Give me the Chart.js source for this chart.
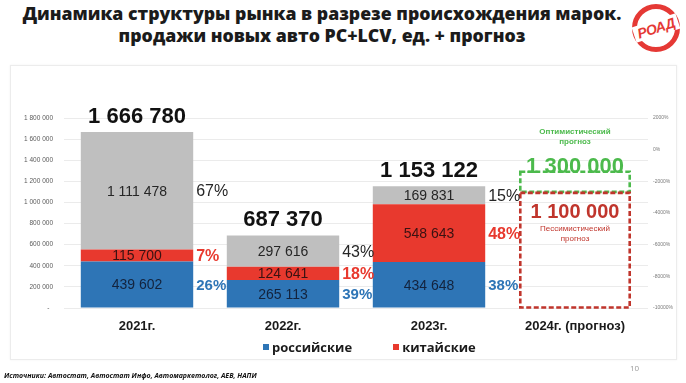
<!DOCTYPE html>
<html><head><meta charset="utf-8">
<script src="https://cdn.jsdelivr.net/npm/chart.js@4.4.1/dist/chart.umd.min.js"></script>
<style>
html,body{margin:0;padding:0;background:#fff;width:686px;height:383px;overflow:hidden;font-family:"Open Sans",sans-serif;}
#title{position:absolute;left:0;top:2px;width:644px;text-align:center;font-weight:800;font-size:17.7px;line-height:22px;color:#1b1b1b;white-space:nowrap;}
#panel{position:absolute;left:10px;top:65px;width:665px;height:293px;border:1px solid #ececec;box-shadow:0 0 2px rgba(0,0,0,0.06);}
#wrap{position:absolute;left:0;top:0;width:686px;height:383px;}
#legend{position:absolute;top:338px;left:263px;display:flex;gap:41px;font-family:"Open Sans",sans-serif;font-weight:700;font-size:13px;color:#1b1b1b;line-height:18px;}
#legend .it{display:flex;align-items:center;}
#legend .sw{width:6px;height:6px;margin-right:3px;}
#src{position:absolute;left:4px;top:371px;font-size:7px;font-weight:700;font-style:italic;color:#111;white-space:nowrap;}
#page{position:absolute;left:630px;top:362px;font-size:8px;color:#9a9a9a;}
#logo{position:absolute;left:632px;top:4px;width:48px;height:48px;border-radius:50%;border:5px solid #e53935;box-sizing:border-box;background:#fff;}
#logo span{position:absolute;left:-4px;top:11px;width:46px;text-align:center;font-family:"Liberation Sans",Arial,sans-serif;font-weight:700;font-style:italic;font-size:14px;color:#e53935;background:#fff;transform:rotate(-18deg);letter-spacing:-0.5px;}
</style></head>
<body>
<div id="panel"></div>
<div id="title">Динамика структуры рынка в разрезе происхождения марок.<br>продажи новых авто PC+LCV, ед. + прогноз</div>
<div id="logo"><span>РОАД</span></div>
<div id="wrap"><canvas id="c" width="686" height="383"></canvas></div>
<div id="legend"></div>
<div id="src">Источники: Автостат, Автостат Инфо, Автомаркетолог, АЕВ, НАПИ</div>
<div id="page">10</div>
<script>
const categories = ['2021г.', '2022г.', '2023г.', '2024г. (прогноз)'];
const seriesNames = ['российские', 'китайские', 'прочие'];
const russian = [439602, 265113, 434648, null];
const chinese = [115700, 124641, 548643, null];
const other = [1111478, 297616, 169831, null];
const totals = [1666780, 687370, 1153122, null];
const russianShare = [26, 39, 38, null];
const chineseShare = [7, 18, 48, null];
const otherShare = [67, 43, 15, null];
const forecastPessimistic = [null, null, null, 1100000];
const forecastOptimistic = [null, null, null, 1300000];
const forecastNames = ['Пессимистический прогноз', 'Оптимистический прогноз'];
const leftAxis = {min: 0, max: 1800000, step: 200000};
const rightAxis = {min: -10000, max: 2000, step: 2000};

const C_BLUE = '#2e75b6', C_RED = '#e8392e', C_GRAY = '#bfbfbf';
const C_GREEN = '#4cba4c', C_DRED = '#c0352c';
const fmt = v => String(v).replace(/\B(?=(\d{3})+(?!\d))/g, ' ');
const optimisticExtra = forecastOptimistic.map((v, i) => v == null ? null : v - forecastPessimistic[i]);

const labelsPlugin = {
  id: 'labels',
  afterDatasetsDraw(chart) {
    const ctx = chart.ctx;
    ctx.save();
    const mB = chart.getDatasetMeta(0), mR = chart.getDatasetMeta(1), mG = chart.getDatasetMeta(2);
    const mP = chart.getDatasetMeta(3), mO = chart.getDatasetMeta(4);
    const dashRect = (el, color) => {
      const l = el.x - el.width / 2 + 1.5, r = el.x + el.width / 2 - 1.5;
      ctx.strokeStyle = color; ctx.lineWidth = 2.6; ctx.setLineDash([5, 2.5]);
      ctx.strokeRect(l, el.y + 1, r - l, el.base - el.y - 1);
    };
    const eo = mO.data[3], ep = mP.data[3];
    dashRect(eo, C_GREEN);
    dashRect(ep, C_DRED);
    ctx.setLineDash([]);
    const segs = [
      {m: mB, vals: russian, share: russianShare, tc: '#13233d', pc: C_BLUE, pf: 'bold 15px "Liberation Sans", Arial'},
      {m: mR, vals: chinese, share: chineseShare, tc: '#3a1212', pc: C_RED, pf: 'bold 16px "Liberation Sans", Arial'},
      {m: mG, vals: other, share: otherShare, tc: '#262626', pc: '#262626', pf: '16px "Liberation Sans", Arial'}
    ];
    segs.forEach(s => {
      s.m.data.forEach((el, i) => {
        if (s.vals[i] == null) return;
        const cy = (el.y + el.base) / 2;
        ctx.font = '14px "Liberation Sans", Arial';
        ctx.fillStyle = s.tc; ctx.textAlign = 'center'; ctx.textBaseline = 'middle';
        ctx.fillText(fmt(s.vals[i]), el.x, cy + 1);
        ctx.font = s.pf; ctx.fillStyle = s.pc; ctx.textAlign = 'left';
        ctx.fillText(s.share[i] + '%', el.x + el.width / 2 + 3, cy + 1);
      });
    });
    ctx.textBaseline = 'alphabetic'; ctx.textAlign = 'center';
    ctx.font = 'bold 22px "Liberation Sans", Arial'; ctx.fillStyle = '#111';
    mG.data.forEach((el, i) => {
      if (totals[i] == null) return;
      ctx.fillText(fmt(totals[i]), el.x, el.y - 9);
    });
    ctx.fillStyle = C_GREEN;
    ctx.fillText(fmt(forecastOptimistic[3]), eo.x, eo.y + 2);
    ctx.font = 'bold 8px "Liberation Sans", Arial';
    const on = forecastNames[1].split(' ');
    ctx.fillText(on[0], eo.x, eo.y - 37);
    ctx.fillText(on[1], eo.x, eo.y - 27);
    ctx.fillStyle = C_DRED;
    ctx.font = 'bold 20px "Liberation Sans", Arial';
    ctx.fillText(fmt(forecastPessimistic[3]), ep.x, ep.y + 26);
    ctx.font = '8px "Liberation Sans", Arial';
    const pn = forecastNames[0].split(' ');
    ctx.fillText(pn[0], ep.x, ep.y + 39);
    ctx.fillText(pn[1], ep.x, ep.y + 49);
    ctx.restore();
  }
};

const chart = new Chart(document.getElementById('c'), {
  type: 'bar',
  data: {
    labels: categories,
    datasets: [
      {label: seriesNames[0], data: russian, backgroundColor: C_BLUE, stack: 's'},
      {label: seriesNames[1], data: chinese, backgroundColor: C_RED, stack: 's'},
      {label: seriesNames[2], data: other, backgroundColor: C_GRAY, stack: 's'},
      {label: forecastNames[0], data: forecastPessimistic, backgroundColor: 'rgba(0,0,0,0)', stack: 's'},
      {label: forecastNames[1], data: optimisticExtra, backgroundColor: 'rgba(0,0,0,0)', stack: 's'}
    ]
  },
  options: {
    responsive: false, animation: false,
    layout: {padding: {top: 118, bottom: 45, left: 0, right: 0}},
    datasets: {bar: {categoryPercentage: 1, barPercentage: 0.77, borderWidth: 0}},
    plugins: {legend: {display: false}, tooltip: {enabled: false}},
    scales: {
      x: {
        stacked: true,
        grid: {display: false, drawTicks: false}, border: {display: false},
        ticks: {padding: 11, color: '#1a1a1a', font: {family: '"Liberation Sans", Arial', size: 13, weight: 'bold'}},
        afterFit: s => { s.height = 30; }
      },
      y: {
        stacked: true, position: 'left',
        min: leftAxis.min, max: leftAxis.max,
        grid: {color: '#ebebeb', drawTicks: false}, border: {display: false},
        ticks: {stepSize: leftAxis.step, padding: 11, color: '#5a5a5a',
          font: {family: '"Liberation Sans", Arial', size: 6.5},
          callback: v => v === 0 ? '-  ' : fmt(v)},
        afterFit: s => { s.width = 64; }
      },
      y1: {
        position: 'right',
        min: rightAxis.min, max: rightAxis.max,
        grid: {display: false, drawTicks: false}, border: {display: false},
        ticks: {stepSize: rightAxis.step, padding: 5, color: '#7a7a7a',
          font: {family: '"Liberation Sans", Arial', size: 5},
          callback: v => v + '%'},
        afterFit: s => { s.width = 38; }
      }
    }
  },
  plugins: [labelsPlugin]
});

const lg = document.getElementById('legend');
chart.data.datasets.slice(0, 2).forEach(ds => {
  const it = document.createElement('div'); it.className = 'it';
  const sw = document.createElement('div'); sw.className = 'sw'; sw.style.background = ds.backgroundColor;
  const tx = document.createElement('span'); tx.textContent = ds.label;
  it.appendChild(sw); it.appendChild(tx); lg.appendChild(it);
});
</script>
</body></html>
